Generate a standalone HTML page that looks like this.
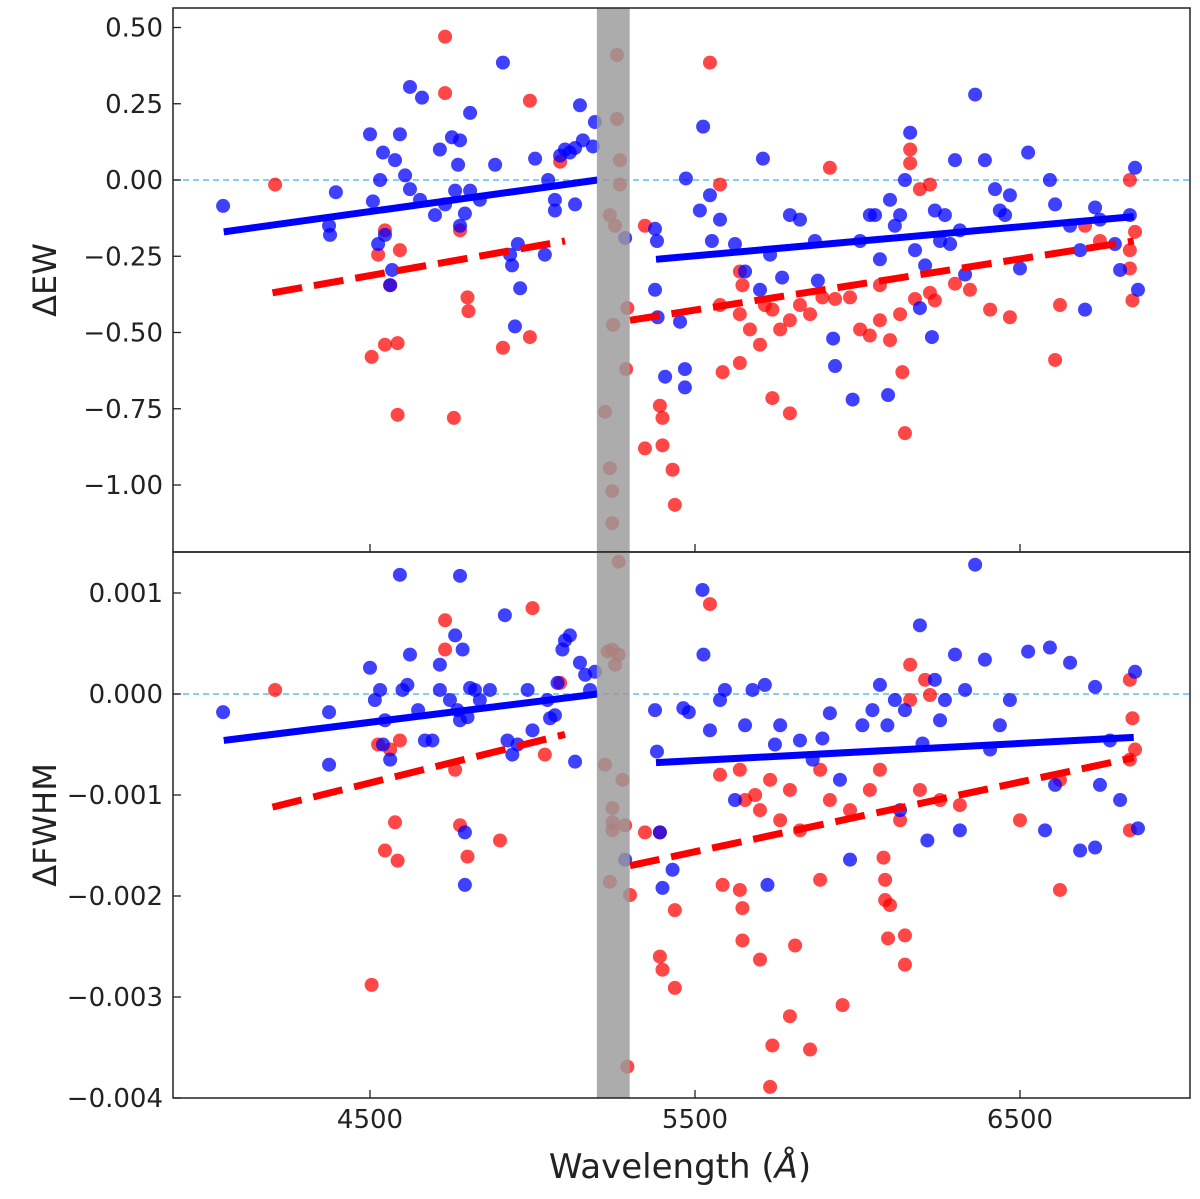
<!DOCTYPE html>
<html><head><meta charset="utf-8"><style>
html,body{margin:0;padding:0;background:#fff;}
svg text{font-family:"DejaVu Sans","Liberation Sans",sans-serif;fill:#222;}
</style></head><body>
<svg id="chart" width="1200" height="1194" viewBox="0 0 1200 1194" xmlns="http://www.w3.org/2000/svg">
</svg>
<script>
// ---------- data ----------
const xTicks=[4500,5500,6500];
const ewTicks=[0.5,0.25,0,-0.25,-0.5,-0.75,-1.0];
const ewTickLabels=["0.50","0.25","0.00","\u22120.25","\u22120.50","\u22120.75","\u22121.00"];
const fwTicks=[1,0,-1,-2,-3,-4];
const fwTickLabels=["0.001","0.000","\u22120.001","\u22120.002","\u22120.003","\u22120.004"];
const bandRange=[5198,5299];

const ewBlue=[[4048,-0.085],[4395,-0.04],[4374,-0.15],[4377,-0.18],[4500,0.15],[4509,-0.07],[4531,0],[4540,0.09],[4577,0.065],[4592,0.15],[4525,-0.21],[4546,-0.18],[4562,-0.345],[4568,-0.295],[4623,0.305],[4660,0.27],[4608,0.015],[4623,-0.03],[4654,-0.065],[4715,0.1],[4752,0.14],[4777,0.13],[4808,0.22],[4771,0.05],[4700,-0.115],[4731,-0.08],[4762,-0.035],[4808,-0.035],[4792,-0.11],[4838,-0.065],[4777,-0.15],[4885,0.05],[4909,0.385],[4931,-0.245],[4937,-0.28],[4962,-0.355],[4946,-0.48],[4955,-0.21],[5008,0.07],[5038,-0.245],[5048,0],[5069,-0.065],[5085,0.08],[5100,0.1],[5115,0.09],[5131,0.105],[5146,0.245],[5155,0.13],[5192,0.19],[5186,0.11],[5131,-0.08],[5069,-0.1],[5285,-0.19],
[5377,-0.16],[5383,-0.2],[5377,-0.36],[5408,-0.645],[5469,-0.62],[5469,-0.68],[5385,-0.45],[5454,-0.465],[5472,0.005],[5525,0.175],[5515,-0.1],[5552,-0.2],[5577,-0.13],[5546,-0.05],[5623,-0.21],[5709,0.07],[5654,-0.3],[5700,-0.36],[5731,-0.245],[5768,-0.32],[5792,-0.115],[5823,-0.13],[5869,-0.2],[5878,-0.33],[5925,-0.52],[5931,-0.61],[5985,-0.72],[6008,-0.2],[6038,-0.115],[6069,-0.26],[6094,-0.705],[6054,-0.115],[6100,-0.065],[6131,-0.115],[6162,0.155],[6146,0],[6177,-0.23],[6192,-0.42],[6208,-0.28],[6229,-0.515],[6238,-0.1],[6269,-0.115],[6300,0.065],[6315,-0.165],[6331,-0.31],[6362,0.28],[6392,0.065],[6423,-0.03],[6454,-0.115],[6500,-0.29],[6525,0.09],[6592,0],[6608,-0.08],[6654,-0.15],[6700,-0.425],[6731,-0.09],[6746,-0.13],[6808,-0.295],[6854,0.04],[6863,-0.36],[6838,-0.115],[6115,-0.15],[6254,-0.2],[6285,-0.21],[6438,-0.1],[6469,-0.05],[6685,-0.23],[6792,-0.21]];
const ewRed=[[4208,-0.015],[4505,-0.58],[4546,-0.54],[4585,-0.535],[4585,-0.77],[4758,-0.78],[4731,0.47],[4731,0.285],[4546,-0.165],[4562,-0.345],[4592,-0.23],[4800,-0.385],[4803,-0.43],[4992,0.26],[4909,-0.55],[4992,-0.515],[5085,0.06],[4777,-0.165],[4525,-0.245],
[5260,0.41],[5260,0.2],[5269,0.065],[5238,-0.115],[5223,-0.76],[5238,-0.945],[5245,-1.02],[5245,-1.125],[5269,-0.015],[5254,-0.15],[5292,-0.42],[5288,-0.62],[5248,-0.475],[5346,-0.15],[5346,-0.88],[5392,-0.74],[5400,-0.78],[5400,-0.87],[5431,-0.95],[5438,-1.065],[5546,0.385],[5577,-0.015],[5585,-0.63],[5638,-0.6],[5638,-0.3],[5646,-0.345],[5669,-0.49],[5700,-0.54],[5738,-0.425],[5738,-0.715],[5792,-0.765],[5823,-0.41],[5892,-0.385],[5915,0.04],[5977,-0.385],[6038,-0.51],[6069,-0.345],[6100,-0.525],[6138,-0.63],[6146,-0.83],[6162,0.1],[6162,0.055],[6192,-0.03],[6223,-0.015],[6238,-0.395],[6408,-0.425],[6469,-0.45],[6608,-0.59],[6623,-0.41],[6700,-0.15],[6746,-0.2],[6838,0],[6838,-0.29],[6846,-0.395],[6838,-0.23],[6854,-0.17],
[5577,-0.41],[5638,-0.44],[5715,-0.41],[5762,-0.49],[5792,-0.46],[5854,-0.44],[5931,-0.39],[6008,-0.49],[6069,-0.46],[6131,-0.44],[6177,-0.39],[6223,-0.37],[6300,-0.34],[6346,-0.36]];
// FWHM values in units of 1e-3
const fwBlue=[[4048,-0.18],[4374,-0.7],[4374,-0.18],[4500,0.26],[4515,-0.06],[4531,0.04],[4540,-0.5],[4546,-0.26],[4562,-0.65],[4592,1.18],[4600,0.04],[4615,0.09],[4623,0.39],[4648,-0.16],[4669,-0.46],[4692,-0.46],[4715,0.04],[4715,0.29],[4746,-0.06],[4762,0.58],[4769,-0.16],[4777,1.17],[4777,-0.26],[4785,0.44],[4800,-0.23],[4808,0.06],[4792,-1.89],[4792,-1.37],[4823,0.04],[4838,-0.06],[4869,0.04],[4915,0.78],[4923,-0.46],[4938,-0.6],[4954,-0.5],[4985,0.04],[5000,-0.36],[5046,-0.06],[5054,-0.24],[5069,-0.21],[5092,0.44],[5100,0.53],[5115,0.58],[5131,-0.67],[5146,0.31],[5162,0.19],[5177,0.04],[5192,0.22],[5077,0.11],
[5285,-1.64],[5377,-0.16],[5383,-0.57],[5392,-1.37],[5400,-1.92],[5431,-1.74],[5464,-0.14],[5481,-0.18],[5523,1.03],[5526,0.39],[5546,-0.36],[5577,-0.06],[5592,0.04],[5623,-1.05],[5654,-0.31],[5677,0.04],[5715,0.09],[5723,-1.89],[5746,-0.5],[5762,-0.31],[5823,-0.46],[5862,-0.65],[5892,-0.44],[5915,-0.19],[5946,-0.85],[5977,-1.64],[6015,-0.31],[6046,-0.16],[6069,0.09],[6092,-0.31],[6115,-0.06],[6131,-1.15],[6146,-0.16],[6192,0.68],[6200,-0.49],[6215,-1.45],[6238,0.14],[6254,-0.26],[6269,-0.06],[6300,0.39],[6315,-1.35],[6331,0.04],[6362,1.28],[6392,0.34],[6408,-0.55],[6438,-0.31],[6469,-0.06],[6525,0.42],[6577,-1.35],[6592,0.46],[6608,-0.9],[6654,0.31],[6685,-1.55],[6731,-1.52],[6746,-0.9],[6731,0.07],[6777,-0.46],[6808,-1.05],[6854,0.22],[6863,-1.33]];
const fwRed=[[4208,0.04],[4505,-2.88],[4525,-0.5],[4546,-1.55],[4562,-0.55],[4577,-1.27],[4585,-1.65],[4592,-0.46],[4731,0.73],[4731,0.44],[4762,-0.75],[4777,-1.3],[4800,-1.61],[4900,-1.45],[5000,0.85],[5038,-0.6],[5085,0.11],[5223,-0.7],[5231,0.42],[5246,0.44],[5265,1.31],[5265,0.39],[5254,0.29],[5246,-1.13],[5246,-1.27],[5246,-1.35],[5238,-1.86],[5277,-0.85],[5285,-1.3],[5292,-3.69],[5300,-1.99],[5346,-1.37],[5392,-1.37],[5392,-2.6],[5400,-2.73],[5438,-2.91],[5438,-2.14],[5546,0.89],[5585,-1.89],[5638,-1.94],[5646,-2.12],[5646,-2.44],[5700,-2.63],[5731,-3.89],[5738,-3.48],[5792,-3.19],[5808,-2.49],[5854,-3.52],[5885,-1.84],[5954,-3.08],[6080,-1.62],[6085,-1.84],[6085,-2.04],[6094,-2.42],[6100,-2.09],[6146,-2.39],[6146,-2.68],[6162,0.29],[6162,-0.06],[6208,0.14],[6223,-0.01],[6623,-1.94],[6838,0.14],[6846,-0.24],[6838,-1.35],[6838,-0.65],[6854,-0.55],
[5577,-0.8],[5638,-0.75],[5654,-1.05],[5685,-1.0],[5700,-1.15],[5731,-0.85],[5762,-1.25],[5792,-0.95],[5823,-1.35],[5885,-0.75],[5915,-1.05],[5977,-1.15],[6038,-0.95],[6069,-0.75],[6131,-1.25],[6192,-0.95],[6254,-1.05],[6315,-1.1],[6500,-1.25],[6623,-0.85]];
// fit lines: [x1,y1,x2,y2]
const ewBlueFits=[[4050,-0.17,5200,0.0],[5380,-0.26,6850,-0.12]];
const ewRedFits=[[4200,-0.37,5100,-0.2],[5300,-0.46,6850,-0.2]];
const fwBlueFits=[[4050,-0.46,5200,0.0],[5380,-0.68,6850,-0.43]];
const fwRedFits=[[4200,-1.12,5100,-0.4],[5300,-1.7,6850,-0.63]];

// ---------- scales ----------
const L=173,R=1190;
const xs=v=>370+(v-4500)*0.325;
const yEW=v=>180-v*305;
const yFW=v=>694-v*101;
const P1={top:8,bot:552}, P2={top:552,bot:1098};
const svg=document.getElementById('chart');
const NS='http://www.w3.org/2000/svg';
function mk(tag,attrs,parent){const e=document.createElementNS(NS,tag);for(const k in attrs)e.setAttribute(k,attrs[k]);(parent||svg).appendChild(e);return e;}

function panel(name,P,ys,ticks,labels,blue,red,bFits,rFits,ylabel){
  const g=mk('g',{});
  
  
  const clipId=name+'-clip';
  const cp=mk('clipPath',{id:clipId},g);mk('rect',{x:L,y:P.top,width:R-L,height:P.bot-P.top},cp);
  const inner=mk('g',{'clip-path':'url(#'+clipId+')'},g);
  const zl=mk('line',{x1:L,x2:R,y1:ys(0),y2:ys(0),stroke:'#5bc0eb','stroke-width':1.5,'stroke-dasharray':'6,4'},inner);
  
  
  red.forEach(d=>{const c=mk('circle',{cx:xs(d[0]),cy:ys(d[1]),r:7,fill:'#ff0000','fill-opacity':0.72},inner);
    
    });
  blue.forEach(d=>{const c=mk('circle',{cx:xs(d[0]),cy:ys(d[1]),r:7,fill:'#0000ff','fill-opacity':0.75},inner);
    
    });
  bFits.forEach(f=>{const l=mk('line',{x1:xs(f[0]),y1:ys(f[1]),x2:xs(f[2]),y2:ys(f[3]),stroke:'#0000ff','stroke-width':7},inner);
    
    });
  rFits.forEach(f=>{const l=mk('line',{x1:xs(f[0]),y1:ys(f[1]),x2:xs(f[2]),y2:ys(f[3]),stroke:'#ff0000','stroke-width':7,'stroke-dasharray':'30,12'},inner);
    
    });
  const band=mk('rect',{x:xs(bandRange[0]),y:P.top,width:xs(bandRange[1])-xs(bandRange[0]),height:P.bot-P.top,fill:'#9a9a9a','fill-opacity':0.82},inner);
  
  
  const fr=mk('rect',{x:L,y:P.top,width:R-L,height:P.bot-P.top,fill:'none',stroke:'#222','stroke-width':1.5},g);
  
  
  ticks.forEach((t,i)=>{const y=ys(t);
    mk('line',{x1:L,x2:L+8,y1:y,y2:y,stroke:'#222','stroke-width':1.3},g);
    const tx=mk('text',{x:L-10,y:y+9,'text-anchor':'end','font-size':26},g);tx.textContent=labels[i];
    
    });
  xTicks.forEach(t=>{mk('line',{x1:xs(t),x2:xs(t),y1:P.bot,y2:P.bot-8,stroke:'#222','stroke-width':1.3},g);});
  const yl=mk('text',{x:0,y:0,'text-anchor':'middle','font-size':32,transform:'translate(56,'+((P.top+P.bot)/2)+') rotate(-90)'},g);
  yl.textContent=ylabel;
  
  
}
panel('ew-panel',P1,yEW,ewTicks,ewTickLabels,ewBlue,ewRed,ewBlueFits,ewRedFits,'\u0394EW');
panel('fwhm-panel',P2,yFW,fwTicks,fwTickLabels,fwBlue,fwRed,fwBlueFits,fwRedFits,'\u0394FWHM');
xTicks.forEach(t=>{const tx=mk('text',{x:xs(t),y:1128,'text-anchor':'middle','font-size':26});tx.textContent=t;
  
  });
const xl=mk('text',{x:680,y:1178,'text-anchor':'middle','font-size':34});
xl.innerHTML='Wavelength (<tspan font-style="italic">Å</tspan>)';


</script>
</body></html>
